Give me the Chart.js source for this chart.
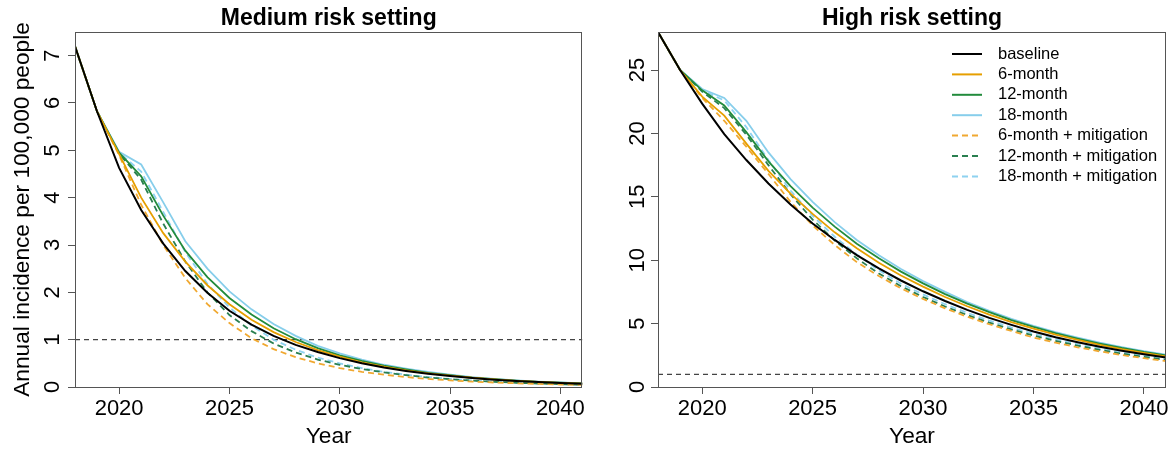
<!DOCTYPE html>
<html>
<head>
<meta charset="utf-8">
<script src="https://cdn.jsdelivr.net/npm/chart.js@4.4.1/dist/chart.umd.min.js"></script>
<style>
  html, body { margin: 0; padding: 0; background: #ffffff; }
  #wrap { position: relative; width: 1174px; height: 450px; overflow: hidden; background: #ffffff; }
  canvas { position: absolute; top: 0; }
  #cMed { left: 0; }
  #cHigh { left: 587px; }
</style>
</head>
<body>
<div id="wrap">
  <canvas id="cMed" width="587" height="450"></canvas>
  <canvas id="cHigh" width="587" height="450"></canvas>
</div>
<script>
// ---- data -------------------------------------------------------------
const years = [2018, 2019, 2020, 2021, 2022, 2023, 2024, 2025, 2026, 2027, 2028, 2029,
               2030, 2031, 2032, 2033, 2034, 2035, 2036, 2037, 2038, 2039, 2040, 2041];

const xTicks = [2020, 2025, 2030, 2035, 2040];
const yTicksMedium = [0, 1, 2, 3, 4, 5, 6, 7];
const yTicksHigh = [0, 5, 10, 15, 20, 25];
const eliminationThreshold = 1;

const seriesLabels = ['baseline', '6-month', '12-month', '18-month',
                      '6-month + mitigation', '12-month + mitigation', '18-month + mitigation'];

// Medium risk setting
const medBaseline = [7.20, 5.82, 4.63, 3.74, 3.03, 2.45, 1.99, 1.61, 1.32, 1.08, 0.89, 0.74,
                     0.61, 0.50, 0.41, 0.34, 0.28, 0.23, 0.19, 0.155, 0.127, 0.104, 0.085, 0.07];
const med6 =        [7.20, 5.82, 4.92, 4.00, 3.25, 2.65, 2.15, 1.75, 1.42, 1.16, 0.95, 0.78,
                     0.64, 0.52, 0.43, 0.35, 0.29, 0.24, 0.195, 0.16, 0.13, 0.107, 0.088, 0.072];
const med12 =       [7.20, 5.82, 4.95, 4.45, 3.62, 2.88, 2.32, 1.88, 1.53, 1.24, 1.01, 0.82,
                     0.67, 0.55, 0.45, 0.37, 0.30, 0.25, 0.20, 0.165, 0.135, 0.11, 0.09, 0.074];
const med18 =       [7.20, 5.82, 4.97, 4.70, 3.90, 3.08, 2.50, 2.02, 1.64, 1.33, 1.08, 0.87,
                     0.71, 0.58, 0.47, 0.39, 0.32, 0.26, 0.21, 0.17, 0.14, 0.115, 0.095, 0.078];
const med6Mit =     [7.20, 5.82, 4.90, 3.85, 3.00, 2.30, 1.75, 1.35, 1.03, 0.80, 0.63, 0.50,
                     0.40, 0.32, 0.26, 0.21, 0.17, 0.14, 0.115, 0.095, 0.078, 0.064, 0.053, 0.044];
const med12Mit =    [7.20, 5.82, 4.93, 4.38, 3.45, 2.65, 2.00, 1.52, 1.18, 0.92, 0.73, 0.58,
                     0.47, 0.38, 0.31, 0.25, 0.20, 0.165, 0.135, 0.11, 0.09, 0.073, 0.06, 0.048];
const med18Mit =    [7.20, 5.82, 4.95, 4.55, 3.70, 2.85, 2.18, 1.68, 1.30, 1.00, 0.79, 0.62,
                     0.50, 0.40, 0.32, 0.26, 0.21, 0.17, 0.14, 0.113, 0.092, 0.075, 0.061, 0.05];

// High risk setting
const highBaseline = [28.0, 25.0, 22.35, 19.95, 17.9, 16.05, 14.4, 12.9, 11.6, 10.4, 9.35, 8.4,
                      7.55, 6.78, 6.08, 5.45, 4.9, 4.38, 3.93, 3.53, 3.17, 2.86, 2.58, 2.33];
const high6 =        [28.0, 25.0, 22.9, 21.4, 19.2, 17.05, 15.25, 13.65, 12.2, 10.95, 9.8, 8.8,
                      7.92, 7.1, 6.37, 5.71, 5.12, 4.6, 4.13, 3.71, 3.33, 2.99, 2.69, 2.42];
const high12 =       [28.0, 25.0, 23.4, 22.2, 20.1, 17.8, 15.85, 14.15, 12.65, 11.3, 10.15, 9.1,
                      8.17, 7.33, 6.58, 5.9, 5.28, 4.74, 4.25, 3.82, 3.43, 3.08, 2.77, 2.5];
const high18 =       [28.0, 25.0, 23.5, 22.8, 21.0, 18.5, 16.4, 14.6, 13.0, 11.6, 10.4, 9.3,
                      8.35, 7.5, 6.7, 6.0, 5.38, 4.83, 4.33, 3.89, 3.49, 3.14, 2.82, 2.55];
const high6Mit =     [28.0, 25.0, 22.8, 21.0, 18.95, 16.8, 14.6, 12.75, 11.2, 9.85, 8.75, 7.78,
                      6.95, 6.2, 5.54, 4.95, 4.42, 3.9, 3.5, 3.13, 2.81, 2.52, 2.27, 2.04];
const high12Mit =    [28.0, 25.0, 23.3, 22.0, 19.9, 17.5, 15.2, 13.2, 11.55, 10.15, 8.95, 7.95,
                      7.1, 6.35, 5.68, 5.08, 4.54, 4.06, 3.64, 3.26, 2.93, 2.63, 2.37, 2.14];
const high18Mit =    [28.0, 25.0, 23.4, 22.6, 20.5, 17.9, 15.5, 13.5, 11.85, 10.45, 9.2, 8.15,
                      7.3, 6.53, 5.85, 5.24, 4.69, 4.2, 3.77, 3.38, 3.04, 2.74, 2.47, 2.23];

// ---- styling ----------------------------------------------------------
const FONT = "'Liberation Sans', Arial, Helvetica, sans-serif";
const AXIS_GREY = '#555555';
const seriesStyles = [
  { color: '#000000', dash: [] },
  { color: '#E69F00', dash: [] },
  { color: '#228B3C', dash: [] },
  { color: '#87CEEB', dash: [] },
  { color: '#F0A830', dash: [6, 4] },
  { color: '#2A7F50', dash: [6, 4] },
  { color: '#8ED2F0', dash: [6, 4] }
];

function buildDatasets(seriesValues) {
  const sets = seriesValues.map((vals, i) => ({
    label: seriesLabels[i],
    data: years.map((yr, k) => ({ x: yr, y: vals[k] })),
    borderColor: seriesStyles[i].color,
    backgroundColor: seriesStyles[i].color,
    borderDash: seriesStyles[i].dash,
    borderWidth: i === 0 ? 2 : 1.8,
    pointRadius: 0,
    tension: 0,
    fill: false
  }));
  // elimination threshold reference line
  sets.push({
    label: 'threshold',
    data: [{ x: years[0], y: eliminationThreshold }, { x: years[years.length - 1], y: eliminationThreshold }],
    borderColor: '#444444',
    borderDash: [5, 4],
    borderWidth: 1.2,
    pointRadius: 0,
    fill: false,
    order: 10
  });
  return sets;
}

// Box, rotated y tick labels, titles and legend
function decorPlugin(cfg) {
  return {
    id: 'decor',
    afterDraw(chart) {
      const ctx = chart.ctx;
      const a = chart.chartArea;
      const ys = chart.scales.y;
      ctx.save();
      // plot box
      ctx.strokeStyle = AXIS_GREY;
      ctx.lineWidth = 1;
      ctx.strokeRect(Math.round(a.left) + 0.5, Math.round(a.top) + 0.5,
                     Math.round(a.right - a.left) - 1, Math.round(a.bottom - a.top));

      ctx.fillStyle = '#000000';
      // y tick labels, rotated like base graphics
      ctx.font = '22px ' + FONT;
      ctx.textAlign = 'center';
      ctx.textBaseline = 'alphabetic';
      cfg.yTicks.forEach(v => {
        const py = ys.getPixelForValue(v);
        ctx.save();
        ctx.translate(cfg.yTickBaseX, py);
        ctx.rotate(-Math.PI / 2);
        ctx.fillText(String(v), 0, 0);
        ctx.restore();
      });

      // y axis title
      if (cfg.yTitle) {
        ctx.save();
        ctx.font = '22.7px ' + FONT;
        ctx.translate(cfg.yTitleBaseX, (a.top + a.bottom) / 2);
        ctx.rotate(-Math.PI / 2);
        ctx.fillText(cfg.yTitle, 0, 0);
        ctx.restore();
      }

      // x axis title
      ctx.font = '22.7px ' + FONT;
      ctx.textBaseline = 'middle';
      ctx.fillText('Year', (a.left + a.right) / 2, 437);

      // panel title
      ctx.font = 'bold 23px ' + FONT;
      ctx.fillText(cfg.title, (a.left + a.right) / 2, 19);

      // legend
      if (cfg.legend) {
        const lg = cfg.legend;
        ctx.font = '16.5px ' + FONT;
        ctx.textAlign = 'left';
        ctx.textBaseline = 'middle';
        chart.data.datasets.forEach((ds, i) => {
          if (i >= seriesLabels.length) return;
          const y = lg.top + i * lg.step;
          ctx.save();
          ctx.strokeStyle = ds.borderColor;
          ctx.lineWidth = 2;
          ctx.setLineDash(ds.borderDash || []);
          ctx.beginPath();
          ctx.moveTo(lg.x1, y);
          ctx.lineTo(lg.x2, y);
          ctx.stroke();
          ctx.restore();
          ctx.fillStyle = '#000000';
          ctx.fillText(ds.label, lg.textX, y);
        });
      }
      ctx.restore();
    }
  };
}

function makeChart(canvasId, cfg) {
  return new Chart(document.getElementById(canvasId), {
    type: 'line',
    data: { datasets: buildDatasets(cfg.series) },
    options: {
      responsive: false,
      animation: false,
      devicePixelRatio: 1,
      layout: { padding: { top: 32, right: cfg.padRight, left: 0, bottom: 0 } },
      plugins: { legend: { display: false }, tooltip: { enabled: false } },
      scales: {
        x: {
          type: 'linear',
          min: years[0],
          max: years[years.length - 1],
          afterBuildTicks: s => { s.ticks = xTicks.map(v => ({ value: v })); },
          afterFit: s => { s.height = 63; },
          ticks: {
            autoSkip: false, maxRotation: 0, minRotation: 0, padding: 2,
            color: '#000000', font: { family: FONT, size: 22 },
            callback: v => String(v)
          },
          grid: { drawOnChartArea: false, drawTicks: true, tickLength: 7, tickColor: AXIS_GREY, tickWidth: 1 },
          border: { display: false }
        },
        y: {
          type: 'linear',
          min: 0,
          max: cfg.yMax,
          afterBuildTicks: s => { s.ticks = cfg.yTicks.map(v => ({ value: v })); },
          afterFit: s => { s.width = cfg.yAxisWidth; },
          ticks: { display: false },
          grid: { drawOnChartArea: false, drawTicks: true, tickLength: 7, tickColor: AXIS_GREY, tickWidth: 1 },
          border: { display: false }
        }
      }
    },
    plugins: [decorPlugin(cfg)]
  });
}

makeChart('cMed', {
  series: [medBaseline, med6, med12, med18, med6Mit, med12Mit, med18Mit],
  title: 'Medium risk setting',
  yTitle: 'Annual incidence per 100,000 people',
  yTitleBaseX: 29,
  yTickBaseX: 58.5,
  yTicks: yTicksMedium,
  yMax: 7.5,
  yAxisWidth: 75,
  padRight: 4
});

makeChart('cHigh', {
  series: [highBaseline, high6, high12, high18, high6Mit, high12Mit, high18Mit],
  title: 'High risk setting',
  yTitle: null,
  yTickBaseX: 644 - 587,
  yTicks: yTicksHigh,
  yMax: 28,
  yAxisWidth: 71,
  padRight: 8,
  legend: { x1: 952 - 587, x2: 982 - 587, textX: 998 - 587, top: 54, step: 20.4 }
});
</script>
</body>
</html>
